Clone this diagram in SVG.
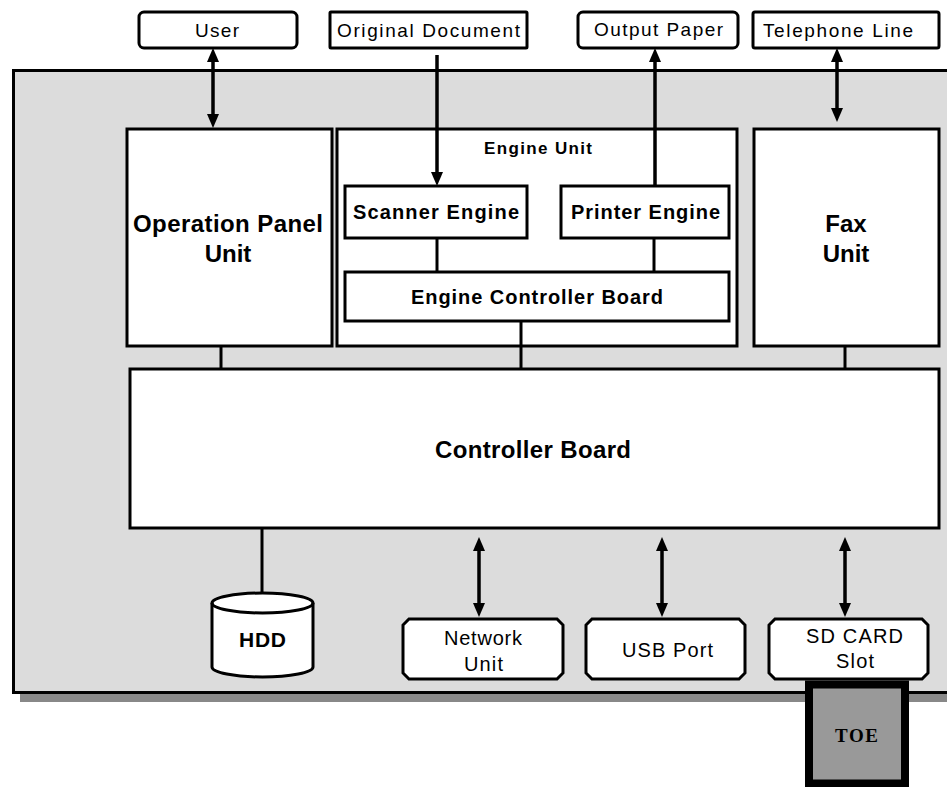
<svg xmlns="http://www.w3.org/2000/svg" width="947" height="787" viewBox="0 0 947 787">
<style>
.box{fill:#fff;stroke:#000;stroke-width:3}
.t{font-family:"Liberation Sans",Arial,sans-serif;fill:#000}
.b{font-weight:bold}
.ln{stroke:#000;stroke-width:3;fill:none}
.ar{stroke:#000;stroke-width:3.5;fill:none}
</style>
<defs>
<marker id="ah" viewBox="0 0 14 12" refX="8" refY="6" markerWidth="14" markerHeight="12" markerUnits="userSpaceOnUse" orient="auto-start-reverse">
<path d="M0,0 L14,6 L0,12 z" fill="#000"/>
</marker>
</defs>
<rect width="947" height="787" fill="#fff"/>
<g id="housing">
<rect x="20" y="78" width="940" height="624" fill="#888"/>
<rect x="13.5" y="70.5" width="945" height="622" fill="#dcdcdc" stroke="#000" stroke-width="3"/>
</g>
<g id="user">
<rect class="box" x="139" y="12" width="158" height="36" rx="5"/>
<text class="t" x="217" y="37" font-size="19" text-anchor="middle" textLength="44" lengthAdjust="spacing">User</text>
</g>
<g id="original-document">
<rect class="box" x="330" y="12" width="197" height="36" rx="1"/>
<text class="t" x="428.5" y="37" font-size="19" text-anchor="middle" textLength="183" lengthAdjust="spacing">Original Document</text>
</g>
<g id="output-paper">
<rect class="box" x="578" y="12" width="160" height="36" rx="5"/>
<text class="t" x="658.5" y="36" font-size="19" text-anchor="middle" textLength="129" lengthAdjust="spacing">Output Paper</text>
</g>
<g id="telephone-line">
<rect class="box" x="753" y="12" width="186" height="36" rx="2"/>
<text class="t" x="838" y="37" font-size="19" text-anchor="middle" textLength="150" lengthAdjust="spacing">Telephone Line</text>
</g>
<g id="operation-panel">
<rect class="box" x="127" y="129" width="205" height="217"/>
<text class="t b" x="228" y="232" font-size="24" text-anchor="middle" textLength="190" lengthAdjust="spacing">Operation Panel</text>
<text class="t b" x="228" y="262" font-size="24" text-anchor="middle">Unit</text>
</g>
<g id="engine-unit">
<rect class="box" x="337" y="129" width="400" height="217"/>
<text class="t b" x="538" y="154" font-size="17" text-anchor="middle" textLength="108" lengthAdjust="spacing">Engine Unit</text>
</g>
<g id="scanner-engine">
<rect class="box" x="345" y="186" width="182" height="52"/>
<text class="t b" x="436" y="219" font-size="20" text-anchor="middle" textLength="166" lengthAdjust="spacing">Scanner Engine</text>
</g>
<g id="printer-engine">
<rect class="box" x="561" y="186" width="168" height="52"/>
<text class="t b" x="645.5" y="219" font-size="20" text-anchor="middle" textLength="149" lengthAdjust="spacing">Printer Engine</text>
</g>
<g id="engine-controller-board">
<rect class="box" x="345" y="272" width="384" height="49"/>
<text class="t b" x="537" y="304" font-size="20" text-anchor="middle" textLength="252" lengthAdjust="spacing">Engine Controller Board</text>
</g>
<g id="fax-unit">
<rect class="box" x="754" y="129" width="185" height="217"/>
<text class="t b" x="846" y="232" font-size="24" text-anchor="middle">Fax</text>
<text class="t b" x="846" y="262" font-size="24" text-anchor="middle">Unit</text>
</g>
<g id="controller-board">
<rect class="box" x="130" y="369" width="809" height="159"/>
<text class="t b" x="533" y="458" font-size="24" text-anchor="middle" textLength="196" lengthAdjust="spacing">Controller Board</text>
</g>
<g id="hdd">
<path class="box" d="M212,603 a50.5,10 0 0 1 101,0 v64 a50.5,10 0 0 1 -101,0 z"/>
<path class="ln" d="M212,603 a50.5,10 0 0 0 101,0"/>
<text class="t b" x="262.5" y="647" font-size="21" text-anchor="middle" textLength="47" lengthAdjust="spacing">HDD</text>
</g>
<g id="network-unit">
<path class="box" d="M409,619 H557 L563,625 V673 L557,679 H409 L403,673 V625 Z"/>
<text class="t" x="483" y="645" font-size="20" text-anchor="middle" textLength="78" lengthAdjust="spacing">Network</text>
<text class="t" x="483.5" y="671" font-size="20" text-anchor="middle" textLength="39" lengthAdjust="spacing">Unit</text>
</g>
<g id="usb-port">
<path class="box" d="M592,619 H739 L745,625 V673 L739,679 H592 L586,673 V625 Z"/>
<text class="t" x="667.5" y="657" font-size="20" text-anchor="middle" textLength="91" lengthAdjust="spacing">USB Port</text>
</g>
<g id="sd-card-slot">
<path class="box" d="M775,619 H922 L928,625 V673 L922,679 H775 L769,673 V625 Z"/>
<text class="t" x="854.5" y="643" font-size="20" text-anchor="middle" textLength="97" lengthAdjust="spacing">SD CARD</text>
<text class="t" x="855" y="668" font-size="20" text-anchor="middle" textLength="38" lengthAdjust="spacing">Slot</text>
</g>
<g id="connectors">
<line class="ar" x1="213" y1="54" x2="213" y2="122" marker-start="url(#ah)" marker-end="url(#ah)"/>
<line class="ar" x1="437" y1="55" x2="437" y2="180" marker-end="url(#ah)"/>
<line class="ar" x1="655" y1="186" x2="655" y2="54" marker-end="url(#ah)"/>
<line class="ar" x1="837" y1="54" x2="837" y2="116" marker-start="url(#ah)" marker-end="url(#ah)"/>
<line class="ln" x1="221" y1="346" x2="221" y2="369"/>
<line class="ln" x1="521" y1="321" x2="521" y2="369"/>
<line class="ln" x1="845" y1="346" x2="845" y2="369"/>
<line class="ln" x1="437" y1="238" x2="437" y2="272"/>
<line class="ln" x1="654" y1="238" x2="654" y2="272"/>
<line class="ln" x1="262" y1="528" x2="262" y2="593"/>
<line class="ar" x1="479" y1="543" x2="479" y2="611" marker-start="url(#ah)" marker-end="url(#ah)"/>
<line class="ar" x1="662" y1="543" x2="662" y2="611" marker-start="url(#ah)" marker-end="url(#ah)"/>
<line class="ar" x1="845" y1="543" x2="845" y2="611" marker-start="url(#ah)" marker-end="url(#ah)"/>
</g>
<g id="toe">
<rect x="809" y="684.5" width="96" height="99" fill="#999" stroke="#000" stroke-width="8"/>
<text x="856.5" y="742" font-family="'Liberation Serif','Times New Roman',serif" font-weight="bold" font-size="19" text-anchor="middle" textLength="43" lengthAdjust="spacing">TOE</text>
</g>
</svg>
